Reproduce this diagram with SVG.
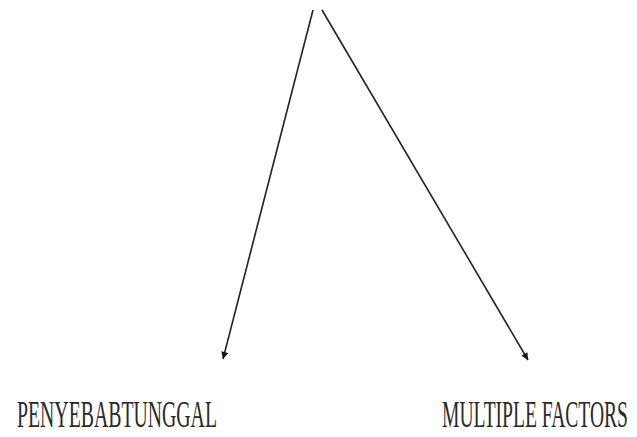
<svg xmlns="http://www.w3.org/2000/svg" width="637" height="437" viewBox="0 0 637 437">
<style>
.lbl{font-family:"Liberation Serif","Times New Roman",serif;font-size:19.4px;fill:#2a2a2a;}
.con{stroke:#222;stroke-width:1.6;fill:none;}
</style>
<defs>
<marker id="ah" viewBox="0 0 10 10" refX="10" refY="5" markerWidth="10" markerHeight="7" markerUnits="userSpaceOnUse" orient="auto">
<path d="M0,0 L10,5 L0,10 z" fill="#111"/>
</marker>
</defs>
<rect width="637" height="437" fill="#fff"/>
<g id="connectors">
<line class="con" x1="313" y1="10" x2="223" y2="359" marker-end="url(#ah)"/>
<line class="con" x1="322" y1="10" x2="528" y2="360" marker-end="url(#ah)"/>
</g>
<g id="node-penyebab">
<text class="lbl" transform="translate(17,427) scale(1,1.96)" x="0" y="0" textLength="200" lengthAdjust="spacingAndGlyphs">PENYEBABTUNGGAL</text>
</g>
<g id="node-multiple">
<text class="lbl" transform="translate(442,427) scale(1,1.96)" x="0" y="0" textLength="186" lengthAdjust="spacingAndGlyphs">MULTIPLE FACTORS</text>
</g>
</svg>
